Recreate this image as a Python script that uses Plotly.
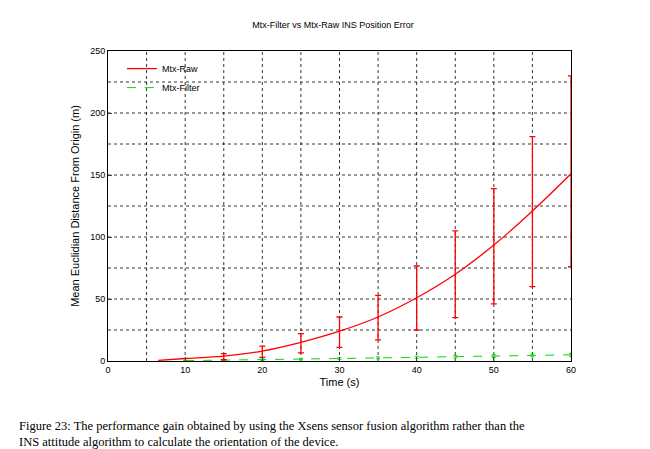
import plotly.graph_objects as go

raw_x = [6.5, 10, 15, 20, 25, 30, 35, 40, 45, 50, 55, 60]
raw_y = [0.5, 2, 4, 8, 15, 24, 35.5, 51, 70, 93.5, 121, 151]
err_x = [15, 20, 25, 30, 35, 40, 45, 50, 55, 60]
err_hi = [6, 12, 22, 35.5, 53, 76.6, 105, 139, 181, 230]
err_lo = [1, 3, 6.5, 11, 17, 25, 35, 46, 60, 76]
err_mid = [4, 8, 15, 24, 35.5, 51, 70, 93.5, 121, 151]
filt_x = [10, 15, 20, 25, 30, 35, 40, 45, 50, 55, 60]
filt_y = [0.3, 0.6, 1.0, 1.5, 2.0, 2.5, 3.0, 3.5, 4.0, 4.5, 5.0]
filt_err = [0.3, 0.4, 0.5, 0.6, 0.7, 0.8, 0.9, 1.0, 1.1, 1.2, 1.3]

fig = go.Figure()
fig.add_trace(go.Scatter(x=raw_x, y=raw_y, mode="lines", name="Mtx-Raw",
                         line=dict(color="#ff0000", width=1.3, shape="spline")))
fig.add_trace(go.Scatter(x=filt_x, y=filt_y, mode="lines", name="Mtx-Filter",
                         line=dict(color="#00dd00", width=1, dash="dash"),
                         error_y=dict(type="data", array=filt_err, color="#00dd00", thickness=1, width=2)))
fig.add_trace(go.Scatter(x=err_x, y=err_mid, mode="markers", showlegend=False,
                         marker=dict(size=0.1, color="#ff0000"),
                         error_y=dict(type="data", symmetric=False,
                                      array=[h - m for h, m in zip(err_hi, err_mid)],
                                      arrayminus=[m - l for m, l in zip(err_mid, err_lo)],
                                      color="#ff0000", thickness=1.3, width=3)))

fig.update_layout(
    width=650, height=449, paper_bgcolor="white", plot_bgcolor="white",
    margin=dict(l=100, r=87, t=43, b=96, autoexpand=False),
    font=dict(family="Liberation Sans", size=9, color="black"),
    title=dict(text="Mtx-Filter vs Mtx-Raw INS Position Error", x=0.5, xanchor="center",
               y=0.97, yanchor="top", font=dict(size=9)),
    legend=dict(x=0.03, y=0.99, xanchor="left", yanchor="top", bgcolor="rgba(0,0,0,0)",
                font=dict(size=9), tracegroupgap=0, itemwidth=30),
    xaxis=dict(range=[0, 60], dtick=10, title=dict(text="Time (s)", standoff=4),
               showline=True, linecolor="black", mirror=True, ticks="inside", ticklen=4,
               showgrid=False, zeroline=False),
    yaxis=dict(range=[0, 250], dtick=50, title=dict(text="Mean Euclidian Distance From Origin (m)", standoff=8),
               showline=True, linecolor="black", mirror=True, ticks="inside", ticklen=4,
               showgrid=False, zeroline=False),
)
for gx in range(5, 60, 5):
    fig.add_shape(type="line", x0=gx, x1=gx, y0=0, y1=250, xref="x", yref="y",
                  line=dict(color="black", width=0.8, dash="dot"), layer="below")
for gy in range(25, 250, 25):
    fig.add_shape(type="line", x0=0, x1=60, y0=gy, y1=gy, xref="x", yref="y",
                  line=dict(color="black", width=0.8, dash="dot"), layer="below")

fig.add_annotation(xref="paper", yref="paper", x=-0.197, y=-0.18, xanchor="left", yanchor="top",
                   align="left", showarrow=False,
                   text="Figure 23: The performance gain obtained by using the Xsens sensor fusion algorithm rather than the<br>INS attitude algorithm to calculate the orientation of the device.",
                   font=dict(family="Liberation Serif", size=12.5, color="black"))

fig.write_html("out.html")
